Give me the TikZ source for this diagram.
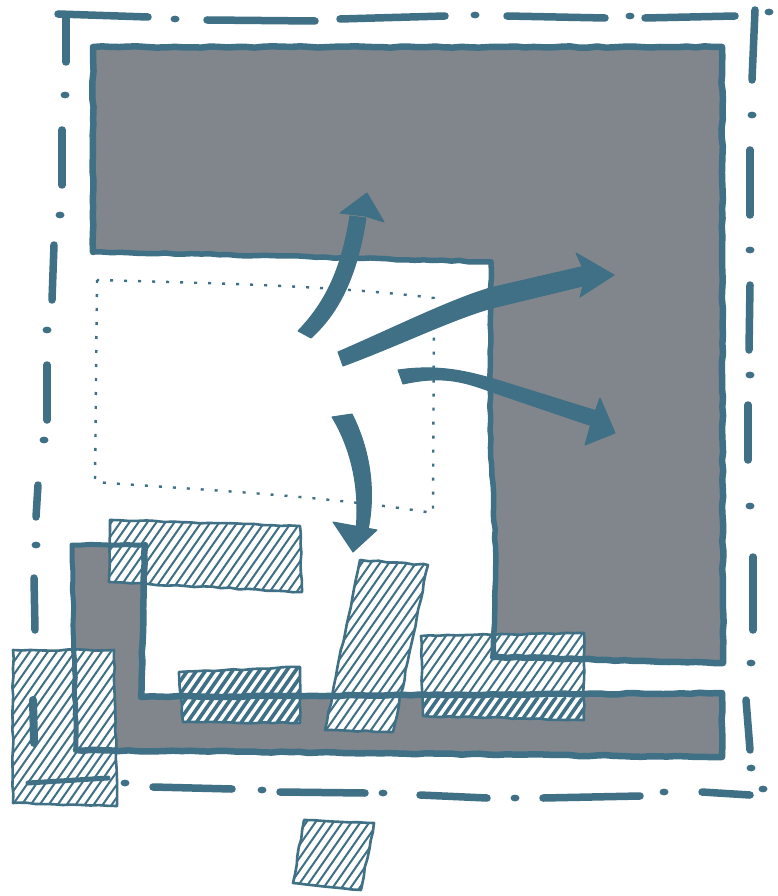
\documentclass[tikz,border=0pt]{standalone}
\usetikzlibrary{decorations.pathmorphing}
\definecolor{ink}{HTML}{3F7085}
\definecolor{fillgrey}{HTML}{80868C}
\tikzset{
  wob/.style={decorate,decoration={random steps,segment length=9pt,amplitude=0.7pt}},
  wall/.style={draw=ink,line width=6.5pt,line join=round,line cap=round,wob},
  thinwall/.style={draw=ink,line width=5pt,line join=round,line cap=round,wob},
  dashpart/.style={draw=ink,line width=7.5pt,line cap=round},
  hatchline/.style={draw=ink,line width=2pt},
  heavyhatch/.style={draw=ink,line width=3.6pt},
  boxedge/.style={draw=ink,line width=2.6pt,line join=round,wob},
  arrowbody/.style={fill=ink,draw=ink,line width=1pt,line join=round},
  dotted rect/.style={draw=ink,line width=2.4pt,dash pattern=on 3pt off 11pt}
}
\newcommand{\hatchbox}[1]{%
  \fill[white] #1;
  \begin{scope}
    \clip #1;
    \foreach \o in {0,9,...,1200} {\draw[hatchline] (\o,0) -- (\o-630,900);}
  \end{scope}
  \draw[boxedge] #1;
}
\newcommand{\heavyzone}[1]{%
  \begin{scope}
    \clip #1;
    \foreach \o in {0,9,...,1200} {\draw[heavyhatch] (\o,0) -- (\o-630,900);}
  \end{scope}
}
\begin{document}
\begin{tikzpicture}[x=1pt,y=-1pt]
\pgfmathsetseed{7}
\useasboundingbox (0,0) rectangle (777,896);
\fill[white] (0,0) rectangle (777,896);
% grey L-shaped block
\fill[fillgrey] (93,47) -- (722,47) -- (723,663) -- (493,657) -- (496,560) -- (490,430) -- (491,262) -- (93,252) -- cycle;
% grey lower strip
\fill[fillgrey] (72,545) -- (145,545) -- (141,697) -- (722,693) -- (722,757) -- (76,750) -- cycle;
% dash-dot boundary
\foreach \a/\b/\c/\d in {
 58/14/148/17, 207/20/315/21, 340/19/445/16, 507/16/605/18, 645/18/735/16,
 66/15/66/62, 62/130/62/185, 54/245/52/300, 47/365/47/420, 38/485/36/517, 34/578/35/630,
 755/10/752/80, 750/150/750/215, 750/285/749/350, 748/405/748/460, 753/557/753/630, 746/700/750/750,
 153/787/232/789, 280/792/365/793, 420/795/487/798, 543/798/640/796, 702/792/750/795}
 {\draw[dashpart] (\a,\b) -- (\c,\d);}
\foreach \a/\b in {175/19, 475/15, 630/16, 769/12,
 65/95, 60/215, 47/330, 44/440, 36/545,
 752/115, 750/250, 750/375, 750/506, 751/663, 751/768,
 763/789, 664/792, 515/798, 383/793, 262/790, 125/783}
 {\fill[ink] (\a,\b) ellipse (4.5pt and 3.4pt);}
% dotted rectangle
\draw[dotted rect] (97,280) -- (95,482) .. controls (200,490) and (320,495) .. (433,513) -- (434,298) .. controls (330,285) and (200,283) .. (97,280);
% hatched boxes
\hatchbox{(110,520) -- (300,526) -- (302,592) -- (109,582) -- cycle}
\hatchbox{(13,650) -- (114,650) -- (117,806) -- (13,803) -- cycle}
\hatchbox{(179,672) -- (300,667) -- (300,723) -- (183,722) -- cycle}
\hatchbox{(360,560) -- (428,565) -- (393,732) -- (325,730) -- cycle}
\hatchbox{(421,636) -- (584,633) -- (584,720) -- (423,716) -- cycle}
\hatchbox{(304,820) -- (374,823) -- (361,890) -- (293,883) -- cycle}
\heavyzone{(179,672) -- (300,667) -- (300,723) -- (183,722) -- cycle}
\heavyzone{(421,698) -- (584,698) -- (584,720) -- (423,716) -- cycle}
% outlines of the grey block
\draw[wall] (93,252) -- (93,47) -- (722,47) -- (723,663) -- (493,657);
\draw[wall,line width=5.5pt] (491,262) -- (490,430) -- (496,560) -- (493,657);
\draw[wall,line width=5.5pt] (93,252) -- (280,256) -- (491,262);
% outlines of the strip
\draw[thinwall] (76,750) -- (72,545) -- (145,545);
\draw[wall] (145,545) -- (141,697) -- (722,693) -- (722,757) -- (76,750);
% marks in left box
\draw[ink,line width=8pt,line cap=round] (33,700) -- (34,743);
\draw[ink,line width=5pt,line cap=round] (28,783) -- (108,778);
% arrows
\fill[arrowbody] (298,331) .. controls (328,300) and (342,265) .. (350,216) -- (366,218) .. controls (358,270) and (342,310) .. (311,338) -- cycle;
\fill[arrowbody] (340,213) -- (367,193) -- (384,222) -- (365,216) -- cycle;
\fill[arrowbody] (338,352) .. controls (400,325) and (450,300) .. (490,288) -- (585,266) -- (587,285) -- (492,308) .. controls (450,320) and (400,345) .. (343,366) -- cycle;
\fill[arrowbody] (576,253) -- (614,275) -- (580,297) -- (586,275) -- cycle;
\fill[arrowbody] (398,370) .. controls (440,364) and (470,372) .. (497,380) -- (600,412) -- (595,427) -- (492,392) .. controls (460,380) and (440,376) .. (403,384) -- cycle;
\fill[arrowbody] (600,398) -- (615,433) -- (585,445) -- (592,420) -- cycle;
\fill[arrowbody] (332,417) -- (352,414) .. controls (370,450) and (376,490) .. (368,530) -- (356,530) .. controls (360,490) and (352,450) .. (332,417) -- cycle;
\fill[arrowbody] (333,522) -- (377,530) -- (353,552) -- cycle;
\end{tikzpicture}
\end{document}
